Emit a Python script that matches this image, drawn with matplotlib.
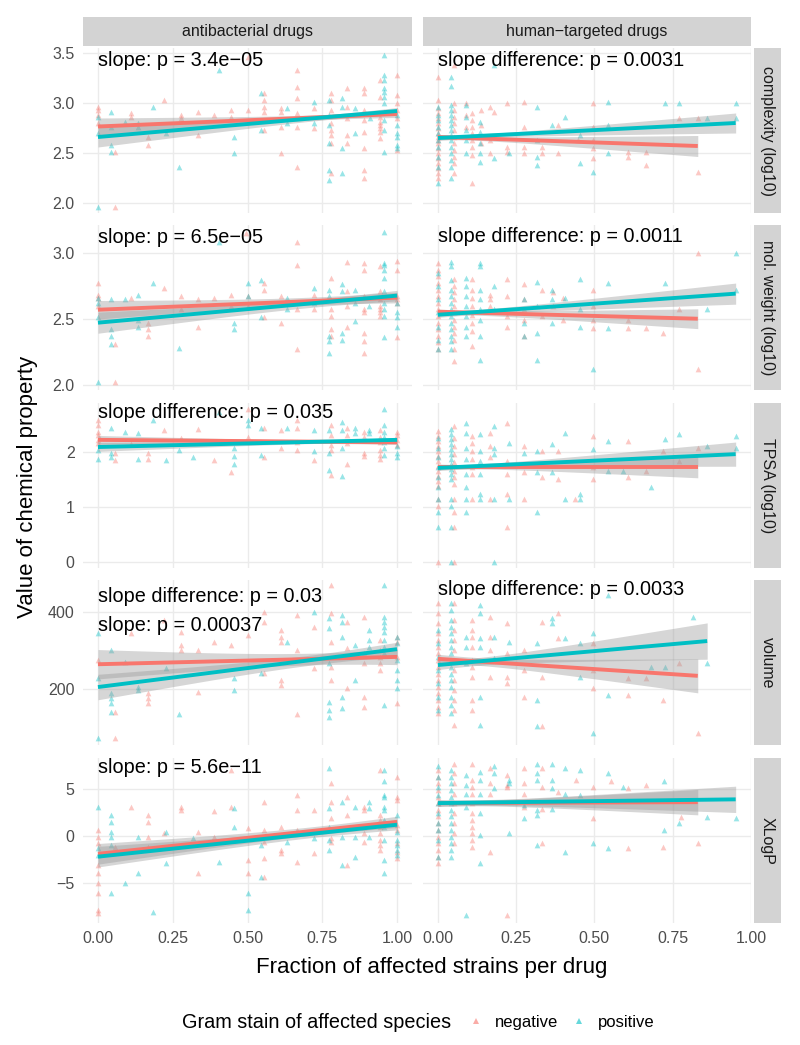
import numpy as np
import matplotlib
matplotlib.use("Agg")
import matplotlib.pyplot as plt
import matplotlib.transforms as mtransforms
from matplotlib.lines import Line2D
from matplotlib.patches import Rectangle

plt.rcParams['font.family'] = ['Liberation Sans', 'DejaVu Sans']

# facettes
columns = ["antibacterial drugs", "human−targeted drugs"]
rows = ["complexity (log10)", "mol. weight (log10)", "TPSA (log10)", "volume", "XLogP"]
groups = ["negative", "positive"]

x_ticks = [0.0, 0.25, 0.5, 0.75, 1.0]
x_ticklabels = ["0.00", "0.25", "0.50", "0.75", "1.00"]
y_ticks = [[2.0, 2.5, 3.0, 3.5], [2.0, 2.5, 3.0], [0, 1, 2], [200, 400], [-5, 0, 5]]
y_ticklabels = [["2.0", "2.5", "3.0", "3.5"], ["2.0", "2.5", "3.0"], ["0", "1", "2"],
                ["200", "400"], ["−5", "0", "5"]]

# points : (fraction of strains, [values])
abx_complexity_neg = [
    (0.0, [2.96, 2.93, 2.88, 2.80]), (0.056, [2.51, 1.96]), (0.111, [2.90, 2.86]),
    (0.167, [2.66, 2.58]), (0.222, [3.03]), (0.278, [2.88, 2.85]), (0.333, [2.91, 2.68]),
    (0.389, [2.88]), (0.444, [2.93, 2.86]), (0.5, [2.93, 3.46]),
    (0.556, [3.10, 3.03, 2.96, 2.91, 2.73]), (0.611, [2.95, 2.91, 2.76, 2.50]),
    (0.667, [3.33, 3.16, 3.05, 2.90, 2.76, 2.36]), (0.722, [2.95, 2.75]),
    (0.778, [3.10, 3.03, 2.93, 2.80, 2.73, 2.68, 2.60, 2.30]),
    (0.833, [3.15, 2.96, 2.85, 2.68, 2.60]),
    (0.889, [3.15, 3.10, 2.93, 2.83, 2.71, 2.55, 2.33, 2.25]),
    (0.944, [3.23, 3.06, 2.86, 2.81, 2.78, 2.75, 2.71, 2.65]),
    (1.0, [3.28, 3.08, 3.00, 2.93, 2.85, 2.53]),
]
abx_complexity_pos = [
    (0.0, [2.86, 2.70, 1.96]), (0.044, [2.91, 2.76, 2.58, 2.51]), (0.089, [2.81]),
    (0.133, [2.80, 2.76]), (0.183, [2.96]), (0.228, [2.70]), (0.272, [2.36]),
    (0.406, [3.33]), (0.456, [2.66, 2.50]), (0.544, [3.10, 2.73]), (0.633, [2.95, 2.80]),
    (0.722, [3.01, 2.80]), (0.772, [3.03, 2.88, 2.78, 2.60, 2.33, 2.23]),
    (0.817, [3.05, 2.96, 2.55, 2.30]), (0.861, [2.95, 2.70]), (0.911, [2.85]),
    (0.956, [3.48, 3.28, 3.23, 3.15, 3.11, 3.06, 3.00, 2.91, 2.83, 2.73, 2.51]),
    (1.0, [2.88, 2.78, 2.70, 2.66, 2.58, 2.55]),
]
hum_complexity_neg = [
    (0.0, [3.26, 3.03, 2.95, 2.90, 2.85, 2.80, 2.75, 2.70, 2.66, 2.63, 2.60, 2.55, 2.50,
           2.45, 2.40, 2.35, 2.30, 2.25]),
    (0.052, [3.38, 3.00, 2.93, 2.86, 2.80, 2.73, 2.66, 2.60, 2.53, 2.46, 2.40, 2.30]),
    (0.089, [3.00, 2.88, 2.76]), (0.110, [2.90, 2.83, 2.76, 2.70, 2.63, 2.56, 2.48, 2.20]),
    (0.137, [2.93, 2.78, 2.60]), (0.166, [2.96, 2.63, 2.50]), (0.180, [2.91]),
    (0.221, [3.00, 2.56, 2.51]), (0.274, [3.01, 2.76, 2.56, 2.50]), (0.332, [2.56, 2.50]),
    (0.385, [2.78, 2.50]), (0.449, [2.63]), (0.496, [3.00, 2.76, 2.63, 2.55, 2.45]),
    (0.607, [2.51, 2.46]), (0.666, [2.51, 2.38]), (0.771, [2.85]), (0.830, [2.85, 2.31]),
]
hum_complexity_pos = [
    (0.0, [2.96, 2.88, 2.83, 2.76, 2.70, 2.63, 2.56, 2.46, 2.36, 2.20]),
    (0.043, [3.26, 3.17, 2.98, 2.93, 2.88, 2.83, 2.78, 2.73, 2.68, 2.63, 2.56, 2.50, 2.43,
             2.36, 2.25]),
    (0.089, [2.98, 2.86, 2.73, 2.63, 2.50]), (0.134, [2.81, 2.71, 2.60, 2.50, 2.41]),
    (0.180, [2.45, 3.38]), (0.226, [2.50]), (0.316, [2.96, 2.63, 2.46, 2.38]),
    (0.364, [2.78]), (0.406, [2.86]), (0.454, [2.68, 2.40]), (0.496, [2.31]),
    (0.544, [3.01, 2.78, 2.50]), (0.724, [3.00]), (0.771, [3.00]), (0.859, [2.85]),
    (0.951, [3.00, 2.85]),
]

abx_mw_neg = [
    (0.0, [2.77, 2.68, 2.66, 2.60]), (0.056, [2.31, 2.02]), (0.111, [2.66]),
    (0.167, [2.47, 2.42, 2.37]), (0.222, [2.73]), (0.278, [2.67, 2.57]),
    (0.333, [2.65, 2.44]), (0.389, [2.66]), (0.444, [2.68, 2.60]), (0.494, [3.15]),
    (0.5, [2.67, 2.60]), (0.556, [2.77, 2.72, 2.51]), (0.611, [2.67, 2.47]),
    (0.667, [3.08, 2.91, 2.57, 2.27]), (0.722, [2.68, 2.57]),
    (0.778, [2.81, 2.57, 2.52, 2.42, 2.37]), (0.833, [2.93, 2.71, 2.60, 2.44]),
    (0.889, [2.92, 2.87, 2.67, 2.57, 2.55, 2.39, 2.33, 2.24]),
    (0.944, [2.90, 2.71, 2.65, 2.60, 2.57, 2.55, 2.52]),
    (1.0, [2.94, 2.87, 2.67, 2.65, 2.62, 2.36]),
]
abx_mw_pos = [
    (0.0, [2.66, 2.62, 2.51, 2.02]), (0.044, [2.65, 2.42, 2.37, 2.31]), (0.089, [2.65]),
    (0.133, [2.68, 2.49, 2.44]), (0.183, [2.77]), (0.272, [2.28]), (0.406, [3.08]),
    (0.456, [2.47, 2.42]), (0.5, [2.77, 2.67]), (0.544, [2.79, 2.51]),
    (0.633, [2.66, 2.57]), (0.722, [2.73, 2.62]), (0.772, [2.72, 2.67, 2.37, 2.33, 2.24]),
    (0.817, [2.76, 2.71, 2.39, 2.34]), (0.861, [2.72, 2.62, 2.48]), (0.906, [2.60]),
    (0.956, [3.16, 2.92, 2.91, 2.87, 2.81, 2.71, 2.62, 2.57, 2.52, 2.36]),
    (1.0, [2.62, 2.55, 2.51, 2.44]),
]
hum_mw_neg = [
    (0.0, [2.92, 2.87, 2.82, 2.77, 2.72, 2.67, 2.62, 2.57, 2.52, 2.47, 2.42, 2.37, 2.32, 2.27]),
    (0.052, [2.80, 2.75, 2.70, 2.65, 2.60, 2.55, 2.49, 2.44, 2.39, 2.34, 2.27, 2.18]),
    (0.110, [2.80, 2.72, 2.66, 2.60, 2.53, 2.47, 2.41, 2.29]), (0.166, [2.68, 2.65, 2.60]),
    (0.221, [2.80, 2.67, 2.52, 2.44]), (0.274, [2.76, 2.65, 2.57, 2.49, 2.37]),
    (0.332, [2.72, 2.52]), (0.369, [2.70, 2.60]), (0.401, [2.66, 2.49]),
    (0.496, [2.72, 2.60, 2.49, 2.43]), (0.607, [2.49, 2.43]), (0.666, [2.43]),
    (0.719, [2.39]), (0.771, [2.57]), (0.830, [3.00, 2.12]),
]
hum_mw_pos = [
    (0.0, [2.85, 2.75, 2.65, 2.55, 2.44, 2.34, 2.27]),
    (0.043, [2.93, 2.90, 2.79, 2.72, 2.67, 2.62, 2.57, 2.52, 2.47, 2.42, 2.37, 2.33, 2.27]),
    (0.089, [2.81, 2.75, 2.67, 2.60, 2.52, 2.44, 2.37]),
    (0.134, [2.92, 2.90, 2.72, 2.65, 2.57, 2.49, 2.37, 2.19]), (0.178, [2.75, 2.57]),
    (0.274, [2.65, 2.47, 2.37]), (0.316, [2.78, 2.60, 2.39, 2.19]),
    (0.364, [2.72, 2.65, 2.47]), (0.406, [2.66]), (0.454, [2.80, 2.57, 2.44]),
    (0.496, [2.12]), (0.544, [2.77, 2.43]), (0.724, [2.77]), (0.859, [2.57]),
    (0.951, [3.00, 2.72]),
]

abx_tpsa_neg = [
    (0.0, [2.58, 2.49, 2.37, 2.31, 2.22, 2.16]), (0.056, [1.98, 1.85]), (0.111, [2.15]),
    (0.167, [1.98, 1.88]), (0.222, [2.40]), (0.278, [2.25]), (0.333, [2.41]),
    (0.389, [1.85]), (0.444, [1.64]), (0.5, [2.79, 2.28]), (0.556, [2.43, 1.90]),
    (0.611, [2.40, 2.07]), (0.667, [2.58, 2.43, 2.19, 2.04]), (0.722, [1.85]),
    (0.778, [2.49, 2.31, 2.13, 2.04, 1.58]), (0.833, [2.43, 2.31, 2.16, 1.79]),
    (0.889, [2.37, 2.28, 1.98, 1.92]), (0.944, [2.40, 2.28, 2.19, 2.04, 1.95, 1.88]),
    (1.0, [2.37, 2.31, 2.22, 2.13]),
]
abx_tpsa_pos = [
    (0.0, [2.04, 1.87]), (0.044, [2.43, 1.98, 1.90]), (0.089, [2.37]), (0.133, [2.34, 1.87]),
    (0.183, [2.58]), (0.228, [1.85]), (0.272, [2.04]), (0.317, [1.90]), (0.406, [2.73]),
    (0.456, [2.07, 1.92, 1.79]), (0.5, [2.58, 2.49]), (0.544, [2.43, 1.95]),
    (0.633, [2.43]), (0.722, [2.40, 2.01]), (0.772, [2.40, 1.98, 1.67]),
    (0.817, [2.55, 2.40, 2.07, 1.56]), (0.861, [2.43, 2.34]), (0.906, [2.40, 2.34]),
    (0.956, [2.78, 2.49, 2.37, 2.28, 2.19, 2.07, 1.95]), (1.0, [2.10, 1.98, 1.90]),
]
hum_tpsa_neg = [
    (0.0, [2.38, 2.29, 2.20, 2.11, 2.02, 1.93, 1.84, 1.75, 1.66, 1.57, 1.48, 1.39, 1.14,
           1.02, 0.0]),
    (0.052, [2.47, 2.26, 2.11, 1.96, 1.81, 1.66, 1.54, 1.42, 1.14, 0.90, 0.63, 0.0]),
    (0.110, [2.29, 2.17, 2.02, 1.87, 1.72, 1.60, 1.14]), (0.166, [2.35, 2.11, 1.90, 1.14]),
    (0.221, [2.53, 1.84, 1.60, 1.23, 0.63]), (0.274, [2.11, 1.63, 1.14]),
    (0.332, [2.02, 1.54]), (0.385, [2.02, 1.51]), (0.438, [1.14]),
    (0.496, [2.29, 1.72, 1.51]), (0.607, [2.20, 1.54]), (0.666, [1.66]), (0.719, [2.02]),
    (0.771, [1.84]), (0.830, [2.08]),
]
hum_tpsa_pos = [
    (0.0, [2.26, 2.08, 1.90, 1.72, 1.54, 1.36, 1.14, 0.90, 0.64]),
    (0.043, [2.41, 2.32, 2.23, 2.14, 2.05, 1.96, 1.87, 1.78, 1.69, 1.60, 1.51, 1.14, 1.02,
             0.64, 0.0]),
    (0.089, [2.53, 2.35, 2.08, 1.87, 1.60, 1.36, 1.14, 0.90]),
    (0.134, [2.32, 2.02, 1.84, 1.60, 1.23, 1.14]), (0.180, [2.47, 2.08, 1.96, 1.14, 0.0]),
    (0.226, [2.17, 1.14]), (0.274, [1.99]), (0.316, [2.02, 1.63, 0.90]),
    (0.364, [2.14, 1.63]), (0.406, [2.35, 1.14]), (0.454, [1.23, 1.14]), (0.496, [2.05]),
    (0.544, [2.20, 1.66]), (0.592, [1.66]), (0.681, [1.36]), (0.724, [2.23]),
    (0.771, [2.33]), (0.859, [2.11]), (0.951, [2.29, 2.08]),
]

abx_volume_neg = [
    (0.0, [275]), (0.056, [141, 72]), (0.111, [344]), (0.167, [189, 176, 163]),
    (0.222, [378]), (0.278, [348, 314, 301]), (0.333, [301, 193]), (0.389, [322]),
    (0.444, [314]), (0.5, [340]), (0.556, [400, 374, 241]), (0.611, [353, 335, 322, 223, 210]),
    (0.667, [391, 301, 135]), (0.722, [361, 253]), (0.778, [469, 396, 322, 258, 223]),
    (0.833, [374, 305, 202]), (0.889, [387, 292, 266, 180, 154]),
    (0.944, [327, 301, 284, 266, 249]), (1.0, [335, 322, 284, 163]),
]
abx_volume_pos = [
    (0.0, [344, 228, 72]), (0.044, [301, 189, 176, 163, 141]), (0.089, [271]),
    (0.133, [206, 197]), (0.228, [253]), (0.272, [135]), (0.456, [228, 197]),
    (0.544, [241]), (0.633, [322]), (0.722, [400]), (0.772, [383, 357, 266, 167, 146, 128]),
    (0.817, [391, 374, 335, 180, 150]), (0.861, [314, 223]), (0.906, [353, 327, 309]),
    (0.956, [469, 387, 374, 361, 348, 327, 309, 292, 159]),
    (1.0, [335, 318, 275, 249, 223, 202]),
]
hum_volume_neg = [
    (0.0, [422, 396, 370, 344, 327, 309, 292, 275, 258, 240, 223, 206, 189, 172, 154, 137]),
    (0.052, [422, 378, 353, 327, 301, 275, 249, 223, 197, 172, 146, 107]),
    (0.110, [378, 353, 335, 309, 275, 258, 232, 172, 146]), (0.166, [387, 335, 301, 232]),
    (0.221, [370, 292, 232, 215]), (0.274, [301, 249, 180]), (0.332, [374, 232, 103]),
    (0.385, [396, 331]), (0.496, [318, 249, 202]), (0.607, [228, 184]), (0.666, [228]),
    (0.719, [172]), (0.771, [266]), (0.830, [85]),
]
hum_volume_pos = [
    (0.0, [353, 318, 284, 249, 215, 180, 146]),
    (0.043, [422, 404, 378, 361, 344, 327, 309, 292, 275, 258, 240, 223, 206, 180, 159, 137]),
    (0.089, [335, 309, 266]), (0.134, [417, 396, 331, 309, 180, 107]), (0.178, [335, 279]),
    (0.226, [322]), (0.316, [318, 172, 103]), (0.364, [383, 370]), (0.406, [331]),
    (0.454, [318, 232]), (0.496, [344, 85]), (0.544, [443, 184]), (0.681, [258]),
    (0.724, [258]), (0.814, [387]), (0.859, [266]),
]

abx_xlogp_neg = [
    (0.0, [0.64, -0.07, -0.78, -3.09, -3.97, -5.04, -6.1, -7.9, -8.2]), (0.056, [-1.13]),
    (0.111, [3.05]), (0.167, [2.23, 1.52, -0.07, -1.13]), (0.222, [0.28]),
    (0.278, [3.05, 2.77]), (0.333, [0.46, -3.97]), (0.389, [2.70, -0.07]),
    (0.444, [3.12, 7.0]), (0.5, [0.82, -2.55, -3.97]), (0.556, [3.65, 0.64, -0.6, -2.38, -4.33]),
    (0.611, [0.99, -1.49, -1.84]), (0.667, [4.36, 2.77, 0.64, -2.73]), (0.722, [2.77, -1.84]),
    (0.778, [5.6, 3.65, 1.88, -0.25, -0.6]), (0.833, [4.18, 2.23, -3.09]),
    (0.889, [3.12, 2.77, 0.99, 0.28, -0.6]),
    (0.944, [7.0, 2.23, 1.70, 0.99, 0.28, -0.43, -0.96, -1.49]),
    (1.0, [6.3, 4.18, 3.83, 1.17, 0.64, -0.78, -1.67, -2.38]),
]
abx_xlogp_pos = [
    (0.0, [3.12, -1.31, -2.02]), (0.044, [2.23, 1.52, 0.46, -0.07, -0.96, -6.1]),
    (0.089, [-4.96]), (0.133, [-0.07, -3.97]), (0.183, [-8.05]), (0.228, [0.46, -2.91]),
    (0.317, [-0.25]), (0.406, [-2.73]), (0.456, [2.94, 0.99]), (0.5, [-6.1, -7.87]),
    (0.544, [-0.96, -4.33]), (0.633, [-0.6]), (0.722, [-0.25]),
    (0.772, [7.2, 2.94, 0.99, -0.43, -1.49]), (0.817, [3.65, -0.07, -3.09]),
    (0.861, [3.12, -0.07, -2.2]), (0.906, [3.65, 2.94, -0.07]),
    (0.956, [7.0, 5.8, 4.36, 4.18, 3.12, 2.77, 1.70, 0.99, -0.43, -2.55, -3.97]),
    (1.0, [2.23, 0.46, -0.43, -0.96, -1.49, -2.02]),
]
hum_xlogp_neg = [
    (0.0, [7.0, 6.3, 5.6, 4.9, 4.2, 3.5, 2.8, 2.1, 1.35, 0.64, -0.07, -0.78, -1.49, -2.2, -2.9]),
    (0.052, [7.7, 6.7, 5.6, 4.5, 3.5, 2.4, 1.35, 0.28, -0.78]),
    (0.110, [7.7, 6.0, 5.25, 4.5, 3.5, 2.4, 1.7, 1.0, 0.28, -0.43, -1.13]),
    (0.166, [7.2, 5.6, 4.5, -1.67]), (0.221, [6.5, 5.4, 5.25, -8.4]),
    (0.274, [7.2, 5.6, 4.5, 3.1]), (0.332, [7.2, 5.25, 2.9, -0.78]), (0.385, [4.7]),
    (0.440, [6.0]), (0.496, [5.25, 1.88]), (0.554, [5.8]), (0.607, [5.1, -1.31]),
    (0.666, [5.4]), (0.719, [-1.13]), (0.777, [2.0]), (0.830, [-0.78]),
]
hum_xlogp_pos = [
    (0.0, [7.4, 6.3, 5.25, 4.36, 3.5, 2.4, 1.35, 0.64, -0.43, -2.2]),
    (0.043, [7.0, 6.3, 5.6, 4.9, 4.2, 3.5, 2.8, 2.1, 1.35, 0.64, -0.07, -0.78, -1.49, -2.2]),
    (0.089, [6.5, 5.4, 4.5, 3.1, -8.4]), (0.134, [6.8, 6.0, 4.5, 2.4, 0.1, -2.9]),
    (0.180, [7.4, 6.7, 5.1]), (0.226, [6.0, 5.6, 0.28]), (0.274, [3.3, 1.88]),
    (0.316, [7.7, 6.7, 6.0, 2.8, 2.2, -0.96]), (0.364, [7.7, 6.0, 5.1, 2.9]),
    (0.406, [7.2, 4.5, -1.67]), (0.454, [7.0, 4.36]), (0.496, [-0.78]),
    (0.544, [6.7, -1.31]), (0.592, [5.25]), (0.722, [5.8, 0.64]), (0.771, [1.35]),
    (0.859, [2.0]), (0.951, [1.88]),
]

# regressions lineaires : (x fin, y debut, y fin, IC debut, IC fin, IC min) pour negative / positive
fit_abx_complexity = [(1.0, 2.765, 2.89, 0.085, 0.035, 0.025), (1.0, 2.66, 2.92, 0.10, 0.035, 0.025)]
fit_hum_complexity = [(0.83, 2.66, 2.57, 0.025, 0.105, 0.02), (0.951, 2.65, 2.80, 0.025, 0.10, 0.02)]
fit_abx_mw = [(1.0, 2.568, 2.66, 0.07, 0.04, 0.03), (1.0, 2.47, 2.675, 0.08, 0.04, 0.03)]
fit_hum_mw = [(0.83, 2.553, 2.50, 0.02, 0.075, 0.018), (0.951, 2.53, 2.69, 0.02, 0.08, 0.018)]
fit_abx_tpsa = [(1.0, 2.22, 2.175, 0.08, 0.04, 0.03), (1.0, 2.09, 2.22, 0.08, 0.04, 0.03)]
fit_hum_tpsa = [(0.83, 1.73, 1.73, 0.05, 0.20, 0.04), (0.951, 1.71, 1.96, 0.05, 0.22, 0.04)]
fit_abx_volume = [(1.0, 264, 283, 38, 20, 15), (1.0, 205, 303, 33, 18, 13)]
fit_hum_volume = [(0.83, 278, 234, 12, 44, 10), (0.86, 262, 324, 12, 47, 10)]
fit_abx_xlogp = [(1.0, -1.9, 1.5, 1.1, 0.6, 0.45), (1.0, -2.2, 1.2, 1.1, 0.55, 0.4)]
fit_hum_xlogp = [(0.83, 3.5, 3.6, 0.35, 1.35, 0.3), (0.951, 3.5, 3.9, 0.35, 1.4, 0.3)]

# textes p-value : (ligne, colonne, texte)
pvalue_labels = [
    (0, 0, "slope: p = 3.4e−05"),
    (0, 1, "slope difference: p = 0.0031"),
    (1, 0, "slope: p = 6.5e−05"),
    (1, 1, "slope difference: p = 0.0011"),
    (2, 0, "slope difference: p = 0.035"),
    (3, 0, "slope difference: p = 0.03"),
    (3, 0, "slope: p = 0.00037"),
    (3, 1, "slope difference: p = 0.0033"),
    (4, 0, "slope: p = 5.6e−11"),
]

panel_data = {
    (0, 0): (abx_complexity_neg, abx_complexity_pos, fit_abx_complexity),
    (0, 1): (hum_complexity_neg, hum_complexity_pos, fit_hum_complexity),
    (1, 0): (abx_mw_neg, abx_mw_pos, fit_abx_mw),
    (1, 1): (hum_mw_neg, hum_mw_pos, fit_hum_mw),
    (2, 0): (abx_tpsa_neg, abx_tpsa_pos, fit_abx_tpsa),
    (2, 1): (hum_tpsa_neg, hum_tpsa_pos, fit_hum_tpsa),
    (3, 0): (abx_volume_neg, abx_volume_pos, fit_abx_volume),
    (3, 1): (hum_volume_neg, hum_volume_pos, fit_hum_volume),
    (4, 0): (abx_xlogp_neg, abx_xlogp_pos, fit_abx_xlogp),
    (4, 1): (hum_xlogp_neg, hum_xlogp_pos, fit_hum_xlogp),
}

NEG = '#F8766D'
POS = '#00BFC4'
STRIP = '#D3D3D3'
W, H = 800, 1045

fig = plt.figure(figsize=(W / 100, H / 100), dpi=100)


def box(x0, y0, x1, y1):
    # pixels (origine en haut a gauche) -> coordonnees figure
    return [x0 / W, 1 - y1 / H, (x1 - x0) / W, (y1 - y0) / H]


def band_halfwidth(x0, x1, w0, w1, wmin, xs):
    # largeur de l'intervalle de confiance (hyperbole)
    r = np.sqrt((w0 ** 2 - wmin ** 2) / (w1 ** 2 - wmin ** 2))
    c = (x0 + r * x1) / (1 + r)
    k = (w0 ** 2 - wmin ** 2) / (c - x0) ** 2
    return np.sqrt(wmin ** 2 + k * (xs - c) ** 2)


def strip(x0, y0, x1, y1, text, rotation=0):
    b = box(x0, y0, x1, y1)
    fig.add_artist(Rectangle((b[0], b[1]), b[2], b[3], transform=fig.transFigure,
                             facecolor=STRIP, edgecolor='none'))
    fig.text(b[0] + b[2] / 2, b[1] + b[3] / 2, text, ha='center', va='center',
             rotation=rotation, fontsize=11.5, color='#1A1A1A')


col_px = [(83, 412), (423, 751)]
row_px = [(48, 213), (225, 390), (403, 568), (580, 745), (758, 923)]
xlims = [(-0.05, 1.05), (-0.0475, 0.9985)]
ylims = [(1.90, 3.55), (1.96, 3.21), (-0.11, 2.89), (55, 482), (-9.26, 8.3)]
label_frac = {(0, 0): [0.927], (0, 1): [0.927], (1, 0): [0.927], (1, 1): [0.933],
              (2, 0): [0.94], (3, 0): [0.903, 0.727], (3, 1): [0.94], (4, 0): [0.94]}

axes = {}
for r in range(len(rows)):
    for c in range(len(columns)):
        xl, xr = col_px[c]
        yt, yb = row_px[r]
        ax = fig.add_axes(box(xl, yt, xr, yb))
        axes[(r, c)] = ax
        ax.set_facecolor('none')
        for s in ax.spines.values():
            s.set_visible(False)
        ax.set_xlim(xlims[c])
        ax.set_ylim(ylims[r])
        ax.set_xticks(x_ticks)
        ax.set_yticks(y_ticks[r])
        ax.grid(True, color='#EBEBEB', lw=1.0)
        ax.set_axisbelow(True)
        ax.tick_params(length=0, labelsize=11.5, labelcolor='#4D4D4D', pad=6)
        if c == 0:
            ax.set_yticklabels(y_ticklabels[r])
        else:
            ax.set_yticklabels([])
        if r == len(rows) - 1:
            ax.set_xticklabels(x_ticklabels)
        else:
            ax.set_xticklabels([])

        neg, pos, fit = panel_data[(r, c)]
        for pts, color in ((neg, NEG), (pos, POS)):
            xs = [x for x, ys in pts for _ in ys]
            ys = [y for _, yy in pts for y in yy]
            ax.scatter(xs, ys, marker='^', s=17, color=color, alpha=0.4,
                       linewidths=0, zorder=2)
        for (x1, y0, y1, w0, w1, wmin), color in zip(fit, (NEG, POS)):
            xx = np.linspace(0, x1, 100)
            yy = y0 + (y1 - y0) * xx / x1
            ww = band_halfwidth(0, x1, w0, w1, wmin, xx)
            ax.fill_between(xx, yy - ww, yy + ww, color='#999999', alpha=0.4, lw=0, zorder=3)
            ax.plot(xx, yy, color=color, lw=2.8, solid_capstyle='butt', zorder=4)

# textes p-value
used = {}
for r, c, txt in pvalue_labels:
    i = used.get((r, c), 0)
    used[(r, c)] = i + 1
    ax = axes[(r, c)]
    trans = mtransforms.blended_transform_factory(ax.transData, ax.transAxes)
    ax.text(0, label_frac[(r, c)][i], txt, transform=trans, ha='left', va='center',
            fontsize=14.3, color='black', zorder=5)

# bandeaux
for c, name in enumerate(columns):
    strip(col_px[c][0], 17, col_px[c][1], 46, name)
for r, name in enumerate(rows):
    strip(754, row_px[r][0], 781, row_px[r][1], name, rotation=-90)

# titres des axes
fig.text(432 / W, 1 - 967 / H, "Fraction of affected strains per drug", ha='center',
         va='center', fontsize=16)
fig.text(28 / W, 1 - 487 / H, "Value of chemical property", ha='center', va='center',
         rotation=90, fontsize=16)

# legende
fig.text(182 / W, 1 - 1022 / H, "Gram stain of affected species", ha='left', va='center',
         fontsize=14.3)
handles = [Line2D([], [], marker='^', ls='none', color=col, alpha=0.6, markersize=5,
                  markeredgewidth=0) for col in (NEG, POS)]
fig.legend(handles, groups, loc='center left', bbox_to_anchor=(467.7 / W, 1 - 1022 / H),
           ncol=2, frameon=False, fontsize=12, handlelength=1.0, handletextpad=0.63,
           columnspacing=0.76, borderpad=0, borderaxespad=0)

fig.savefig("out.png", dpi=100)
